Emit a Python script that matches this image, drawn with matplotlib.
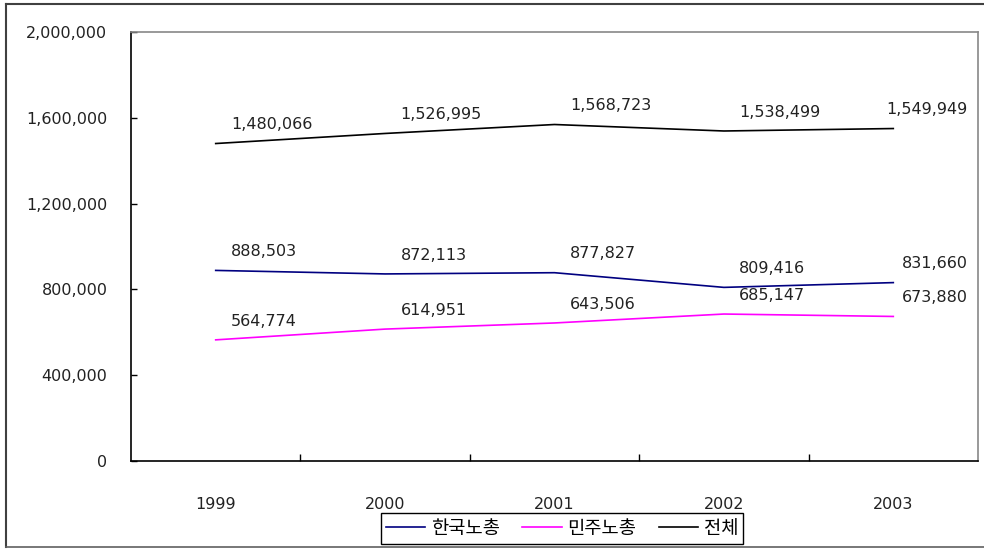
import matplotlib
matplotlib.use("Agg")
import matplotlib.pyplot as plt
from matplotlib.lines import Line2D
from matplotlib.ticker import FuncFormatter, FixedLocator
import numpy as np

plt.rcParams['font.family'] = ['DejaVu Sans', 'Noto Sans CJK KR']

years = ["1999", "2000", "2001", "2002", "2003"]
series_names = ["한국노총", "민주노총", "전체"]
fktu = [888503, 872113, 877827, 809416, 831660]
kctu = [564774, 614951, 643506, 685147, 673880]
total = [1480066, 1526995, 1568723, 1538499, 1549949]
colors = ["#000080", "#FF00FF", "#000000"]
y_ticks = [0, 400000, 800000, 1200000, 1600000, 2000000]

W, H = 984, 549
fig = plt.figure(figsize=(W / 100, H / 100), dpi=100)
ax = fig.add_axes([131 / W, (H - 461) / H, (978 - 131) / W, (461 - 32) / H])

x = np.arange(len(years))
handles = []
for vals, name, c in zip([fktu, kctu, total], series_names, colors):
    ln, = ax.plot(x, vals, color=c, lw=1.2, solid_joinstyle='miter')
    handles.append(ln)

ax.set_xlim(-0.5, len(years) - 0.5)
ax.set_ylim(y_ticks[0], y_ticks[-1])
ax.yaxis.set_major_locator(FixedLocator(y_ticks))
ax.yaxis.set_major_formatter(FuncFormatter(lambda v, p: f"{int(v):,}"))
ax.tick_params(axis='y', direction='in', length=4, width=1, pad=17,
               labelsize=11.5, labelcolor='#222222')

ax.set_xticks(np.arange(len(years) - 1) + 0.5)
ax.set_xticklabels([])
ax.tick_params(axis='x', which='major', direction='in', length=5, width=1)
ax.set_xticks(x, minor=True)
ax.set_xticklabels(years, minor=True)
ax.tick_params(axis='x', which='minor', length=0, pad=26, labelsize=11.5,
               labelcolor='#222222')

for s in ['left', 'bottom']:
    ax.spines[s].set_color('black')
    ax.spines[s].set_linewidth(1.2)
for s in ['top', 'right']:
    ax.spines[s].set_color('#888888')
    ax.spines[s].set_linewidth(1.2)

# data labels
texts = []
for vals in [fktu, kctu, total]:
    for xi, v in zip(x, vals):
        t = ax.annotate(f"{v:,}", xy=(xi, v), xytext=(11, 13.5),
                        textcoords='offset points', ha='left', va='center',
                        fontsize=11.5, color='#222222')
        texts.append(t)

fig.canvas.draw()
renderer = fig.canvas.get_renderer()
ax_right = ax.get_window_extent(renderer).x1
for t in texts:
    bb = t.get_window_extent(renderer)
    limit = ax_right - 10
    if bb.x1 > limit:
        dx = (bb.x1 - limit) * 72 / fig.dpi
        ox, oy = t.xyann
        t.xyann = (ox - dx, oy)

leg = fig.legend(handles, series_names, loc='center', ncol=3,
                 bbox_to_anchor=(562 / W, (H - 528.5) / H),
                 prop={'family': ['Noto Sans CJK KR'], 'size': 13.5},
                 frameon=True, fancybox=False, edgecolor='black',
                 handlelength=2.1, handletextpad=0.3, columnspacing=1.2,
                 borderpad=0.25, borderaxespad=0)
leg.get_frame().set_linewidth(1.0)
leg.get_frame().set_alpha(1)

# outer chart border
fig.add_artist(Line2D([6 / W, 6 / W], [1 - 4 / H, 1 - 547 / H], color='#404040', lw=1.5, transform=fig.transFigure))
fig.add_artist(Line2D([6 / W, 1.0], [1 - 4 / H, 1 - 4 / H], color='#404040', lw=1.5, transform=fig.transFigure))
fig.add_artist(Line2D([6 / W, 1.0], [1 - 547 / H, 1 - 547 / H], color='#606060', lw=1.2, transform=fig.transFigure))

fig.savefig("out.png", dpi=100)
